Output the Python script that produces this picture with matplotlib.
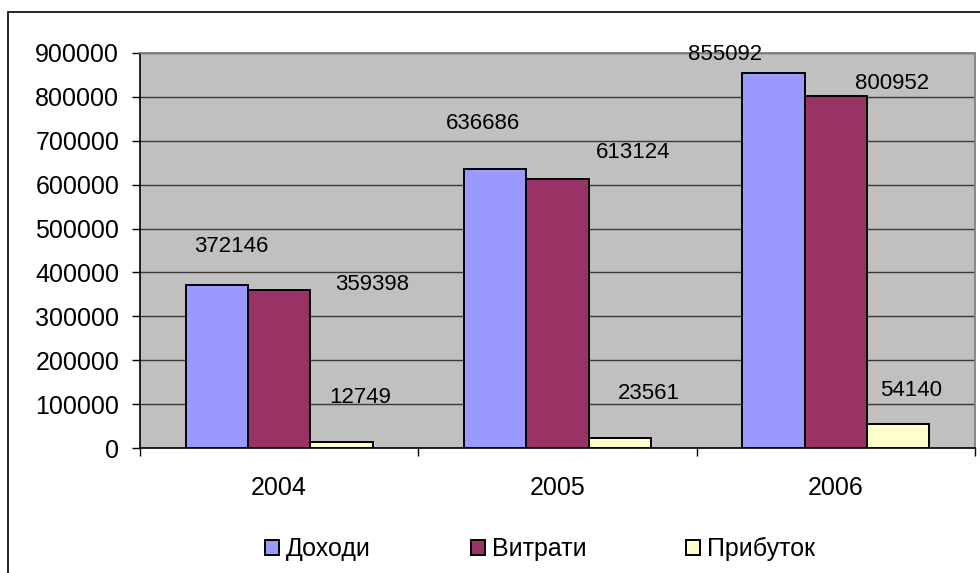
import numpy as np
import matplotlib.pyplot as plt
from matplotlib.patches import Rectangle

plt.rcParams['font.family'] = ['Liberation Sans', 'DejaVu Sans']

years = ['2004', '2005', '2006']
income = [372146, 636686, 855092]
expenses = [359398, 613124, 800952]
profit = [12749, 23561, 54140]
series_names = ['Доходи', 'Витрати', 'Прибуток']
colors = ['#9999FF', '#993366', '#FFFFCC']

# where each value label sits, in pixels relative to the top centre of its bar
label_offsets = [
    [(14, 38), (-12, 45), (-48, 18)],   # Доходи
    [(93, 6), (76, 26), (56, 13)],      # Витрати
    [(19, 45), (29, 44), (13, 34)],     # Прибуток
]

fig = plt.figure(figsize=(9.8, 5.73), dpi=100)
ax = fig.add_axes([140 / 980, 1 - 448 / 573, 835 / 980, 395 / 573])
ax.set_facecolor('#C0C0C0')

x = np.arange(len(years))
w = 0.224
for i, (vals, name, c) in enumerate(zip([income, expenses, profit], series_names, colors)):
    pos = x + (i - 1) * w
    ax.bar(pos, vals, width=w, color=c, edgecolor='black', linewidth=1.4, label=name, zorder=3)
    for xp, v, off in zip(pos, vals, label_offsets[i]):
        ax.annotate(str(v), (xp, v), xytext=off, textcoords='offset pixels',
                    ha='center', va='center', fontsize=16, zorder=4)

ax.set_xlim(-0.5, 2.5)
ax.set_ylim(0, 900000)
ax.set_yticks(np.arange(0, 900001, 100000))
ax.set_yticklabels([str(v) for v in range(0, 900001, 100000)], fontsize=18)
ax.yaxis.grid(True, color='#3a3a3a', linewidth=1.0, zorder=1)
ax.set_axisbelow(True)

# category ticks at the boundaries, labels in the middle
ax.set_xticks([-0.5, 0.5, 1.5, 2.5])
ax.set_xticklabels([])
ax.set_xticks(x, minor=True)
ax.set_xticklabels(years, minor=True, fontsize=18)
ax.tick_params(axis='x', which='minor', length=0, pad=20)
ax.tick_params(axis='x', which='major', length=6, width=1)
ax.tick_params(axis='y', length=6, width=1, pad=9)

for s in ['top', 'right']:
    ax.spines[s].set_color('#808080')
    ax.spines[s].set_linewidth(1.3)
ax.spines['left'].set_linewidth(1.2)
ax.spines['bottom'].set_linewidth(1.2)

leg = fig.legend(loc='center', bbox_to_anchor=(540 / 980, 1 - 549 / 573), ncol=3,
                 frameon=False, fontsize=18, handlelength=0.56, handleheight=0.56,
                 handletextpad=0.28, columnspacing=4.0, borderpad=0)

# chart border
fig.patches.append(Rectangle((8 / 980, -0.1), 1.0, 1 - 12 / 573 + 0.1,
                             transform=fig.transFigure, fill=False,
                             edgecolor='black', linewidth=1.2))

fig.savefig('out.png', dpi=100)
